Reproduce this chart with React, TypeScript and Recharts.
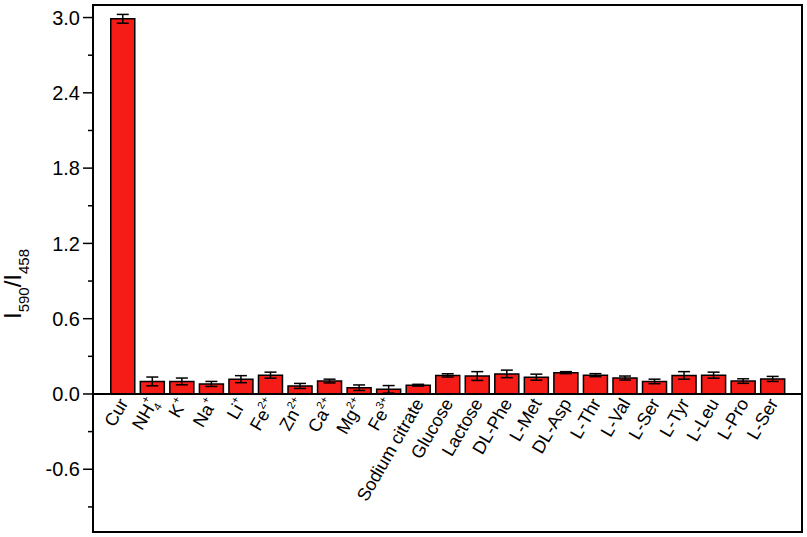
import React from "react";
import {
  ComposedChart,
  Bar,
  XAxis,
  YAxis,
  ErrorBar,
  ReferenceLine,
  ReferenceArea,
  LabelList,
} from "recharts";

const labelBase = [
  "Cur", "NH", "K", "Na", "Li", "Fe", "Zn", "Ca", "Mg", "Fe",
  "Sodium citrate", "Glucose", "Lactose", "DL-Phe", "L-Met", "DL-Asp",
  "L-Thr", "L-Val", "L-Ser", "L-Tyr", "L-Leu", "L-Pro", "L-Ser",
];
const labelSub = [
  "", "4", "", "", "", "", "", "", "", "",
  "", "", "", "", "", "", "", "", "", "", "", "", "",
];
const labelSup = [
  "", "+", "+", "+", "+", "2+", "2+", "2+", "2+", "3+",
  "", "", "", "", "", "", "", "", "", "", "", "", "",
];
const ratioValues = [
  2.99, 0.10, 0.10, 0.08, 0.118, 0.15, 0.064, 0.103, 0.05, 0.037,
  0.07, 0.148, 0.143, 0.16, 0.134, 0.17, 0.15, 0.127, 0.10, 0.148,
  0.15, 0.103, 0.12,
];
const ratioErrors = [
  0.035, 0.035, 0.027, 0.02, 0.028, 0.024, 0.02, 0.015, 0.022, 0.03,
  0.007, 0.013, 0.035, 0.03, 0.024, 0.008, 0.012, 0.016, 0.018, 0.03,
  0.024, 0.018, 0.02,
];
const yTicks = [-0.9, -0.6, -0.3, 0, 0.3, 0.6, 0.9, 1.2, 1.5, 1.8, 2.1, 2.4, 2.7, 3.0];
const yMajorLabels: Record<string, string> = {
  "-0.6": "-0.6", "0": "0.0", "0.6": "0.6", "1.2": "1.2",
  "1.8": "1.8", "2.4": "2.4", "3": "3.0",
};

const data = ratioValues.map((v, i) => ({
  pos: i + 1,
  idx: i,
  value: v,
  err: ratioErrors[i],
}));

const FONT = "'Liberation Sans', Arial, Helvetica, sans-serif";

const YTick = (props: any) => {
  const { x, y, payload } = props;
  const key = String(Number(payload.value.toFixed(2)));
  const label = yMajorLabels[key];
  const major = label !== undefined;
  return (
    <g>
      <line x1={x - (major ? 10 : 5)} x2={x} y1={y} y2={y} stroke="#000" strokeWidth={1.5} />
      {major && (
        <text x={x - 13} y={y} dy="0.36em" textAnchor="end" fontSize={20} fontFamily={FONT} fill="#000">
          {label}
        </text>
      )}
    </g>
  );
};

const CatLabel = (props: any) => {
  const { x, y, width, height, value } = props;
  const i = Number(value);
  const cx = Number(x) + Number(width) / 2 + 6;
  const base = Number(y) + Number(height) + 9;
  const sub = labelSub[i];
  const sup = labelSup[i];
  return (
    <text
      x={cx}
      y={base}
      textAnchor="end"
      transform={`rotate(-60, ${cx}, ${base})`}
      fontSize={18}
      fontFamily={FONT}
      fill="#000"
    >
      {labelBase[i]}
      {sub && (
        <tspan fontSize={11} dy={5}>
          {sub}
        </tspan>
      )}
      {sup && (
        <tspan fontSize={11} dx={sub ? -6 : 0} dy={sub ? -14 : -8}>
          {sup}
        </tspan>
      )}
    </text>
  );
};

const YLabel = () => (
  <text
    x={21}
    y={284}
    textAnchor="middle"
    transform="rotate(-90, 21, 284)"
    fontSize={24}
    fontFamily={FONT}
    fill="#000"
  >
    I<tspan fontSize={15} dy={8}>590</tspan>
    <tspan dy={-8}>/I</tspan>
    <tspan fontSize={15} dy={8}>458</tspan>
  </text>
);

export default function App() {
  return (
    <div style={{ position: "absolute", left: 0, top: 0, background: "#fff" }}>
      <ComposedChart
        width={807}
        height={537}
        data={data}
        margin={{ top: 5, right: 5, bottom: 5, left: 0 }}
      >
        <XAxis dataKey="pos" type="number" domain={[0, 24]} hide />
        <YAxis
          type="number"
          domain={[-1.1, 3.1]}
          ticks={yTicks}
          allowDataOverflow
          width={93}
          tickSize={0}
          tickMargin={0}
          tickLine={false}
          axisLine={{ stroke: "#000", strokeWidth: 2 }}
          tick={<YTick />}
          interval={0}
          label={{ content: () => <YLabel /> }}
        />
        <ReferenceArea x1={0} x2={24} y1={-1.1} y2={3.1} fill="none" stroke="#000" strokeWidth={2} />
        <ReferenceLine y={0} stroke="#000" strokeWidth={2} />
        <Bar
          dataKey="value"
          barSize={24}
          fill="#f51b16"
          stroke="#000"
          strokeWidth={1.5}
          isAnimationActive={false}
        >
          <ErrorBar dataKey="err" width={6} stroke="#000" strokeWidth={1.5} direction="y" />
          <LabelList dataKey="idx" content={<CatLabel />} />
        </Bar>
      </ComposedChart>
    </div>
  );
}
